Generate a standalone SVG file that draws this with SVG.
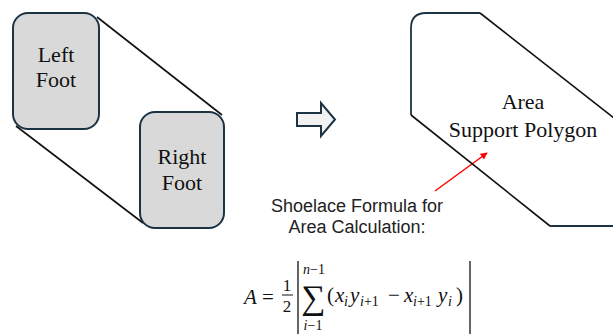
<svg xmlns="http://www.w3.org/2000/svg" width="613" height="334" viewBox="0 0 613 334">
<defs>
<style>
.foot{fill:#d9d9d9;stroke:#1c3344;stroke-width:2}
.lbl{font-family:"Liberation Serif",serif;font-size:22px;fill:#111;text-anchor:middle}
.hull{stroke:#111;stroke-width:1.6;fill:none}
.navy{stroke:#1c3344;stroke-width:1.8;fill:none}
.sans{font-family:"Liberation Sans",Arial,sans-serif;font-size:18px;fill:#222;text-anchor:middle}
.m{font-family:"Liberation Serif",serif;fill:#111}
.mi{font-family:"Liberation Serif",serif;font-style:italic;fill:#111}
.up{font-style:normal}
</style>
<marker id="redhead" viewBox="0 0 10 10" refX="9" refY="5" markerWidth="7" markerHeight="7" orient="auto" markerUnits="userSpaceOnUse">
<path d="M0,0 L10,5 L0,10 z" fill="#ff0000"/>
</marker>
</defs>
<rect width="613" height="334" fill="#ffffff"/>
<g id="connectors">
<line class="hull" x1="97" y1="17" x2="222" y2="115"/>
<line class="hull" x1="16" y1="126" x2="143" y2="223"/>
<line x1="435" y1="191" x2="487" y2="153" stroke="#ff0000" stroke-width="1.5" marker-end="url(#redhead)"/>
</g>
<g id="left-foot">
<rect class="foot" x="13" y="13" width="86" height="116" rx="15"/>
<text class="lbl" x="56" y="62">Left</text>
<text class="lbl" x="56" y="87">Foot</text>
</g>
<g id="right-foot">
<rect class="foot" x="140" y="112" width="84" height="116" rx="15"/>
<text class="lbl" x="182" y="164">Right</text>
<text class="lbl" x="182" y="190">Foot</text>
</g>
<g id="block-arrow">
<path d="M297,113 L321,113 L321,103 L335,119.5 L321,136 L321,126 L297,126 Z" fill="#f2f2f2" stroke="#1c3344" stroke-width="2" stroke-linejoin="miter"/>
</g>
<g id="support-polygon">
<path class="navy" d="M411,115 L411,28 Q411,13 426,13 L480,13"/>
<line class="hull" x1="480" y1="13" x2="614" y2="118"/>
<line class="hull" x1="411" y1="115" x2="550" y2="226"/>
<line class="navy" x1="550" y1="226" x2="614" y2="226"/>
<text class="lbl" x="523" y="109">Area</text>
<text class="lbl" x="523" y="137">Support Polygon</text>
</g>
<g id="shoelace-label">
<text class="sans" x="357" y="212">Shoelace Formula for</text>
<text class="sans" x="357" y="233">Area Calculation:</text>
</g>
<g id="formula">
<text class="mi" x="244" y="304" font-size="21">A</text>
<text class="m" x="262" y="304" font-size="21">=</text>
<text class="m" x="287" y="291" font-size="17" text-anchor="middle">1</text>
<line x1="282" y1="295" x2="293" y2="295" stroke="#111" stroke-width="1"/>
<text class="m" x="287" y="312" font-size="17" text-anchor="middle">2</text>
<line x1="298" y1="261" x2="298" y2="334" stroke="#111" stroke-width="1.3"/>
<text class="m" x="313" y="309" font-size="34" text-anchor="middle">∑</text>
<text class="mi" x="314" y="274" font-size="14" text-anchor="middle">n<tspan class="up">−1</tspan></text>
<text class="mi" x="313" y="330" font-size="14" text-anchor="middle">i<tspan class="up">−1</tspan></text>
<text class="m" x="327" y="302" font-size="21">(</text>
<text class="mi" x="335" y="302" font-size="21">x</text>
<text class="mi" x="344" y="306" font-size="14">i</text>
<text class="mi" x="350" y="302" font-size="21">y</text>
<text class="mi" x="360" y="306" font-size="14">i<tspan class="up">+1</tspan></text>
<text class="m" x="388" y="302" font-size="21">−</text>
<text class="mi" x="404" y="302" font-size="21">x</text>
<text class="mi" x="413" y="306" font-size="14">i<tspan class="up">+1</tspan></text>
<text class="mi" x="438" y="302" font-size="21">y</text>
<text class="mi" x="448" y="306" font-size="14">i</text>
<text class="m" x="456" y="302" font-size="21">)</text>
<line x1="470" y1="261" x2="470" y2="334" stroke="#111" stroke-width="1.3"/>
</g>
</svg>
